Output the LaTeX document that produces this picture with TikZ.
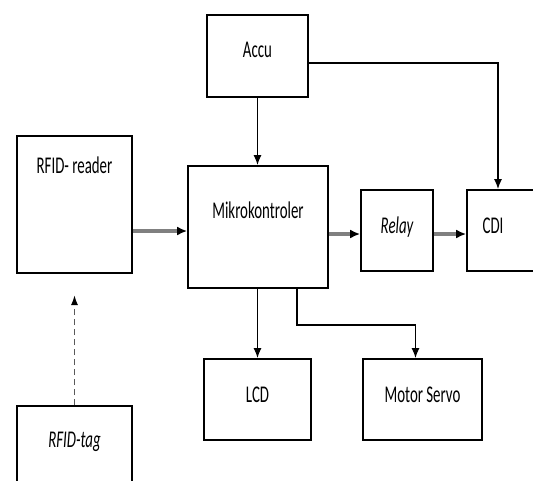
\documentclass[tikz,border=0pt]{standalone}
\usepackage{fontspec}
\setmainfont{Carlito}[FakeStretch=0.62]
\usetikzlibrary{arrows.meta,positioning}

\begin{document}
\begin{tikzpicture}[x=1pt, y=-1pt,
    box/.style={rectangle, draw, line width=1.7pt, inner sep=0pt},
    txt/.style={anchor=base, font=\fontsize{24}{28}\selectfont},
    arrow/.style={-{Latex[length=10pt,width=8pt]}, line width=1.5pt},
    bus/.style={draw=gray, line width=3.5pt, -{Latex[length=10pt,width=9pt,black]}},
    link/.style={draw=gray!70!black, line width=1.6pt, dash pattern=on 6pt off 4pt, -{Latex[length=10pt,width=7pt,black]}}
]
    \useasboundingbox (0,0) rectangle (533,480);
    \clip (0,0) rectangle (533,480);

    % blocks
    \node[box, minimum width=101pt, minimum height=82pt] (accu) at (257.5,56) {};
    \node[box, minimum width=115pt, minimum height=137pt] (reader) at (74.5,204.5) {};
    \node[box, minimum width=140pt, minimum height=122pt] (mikro) at (258,227) {};
    \node[box, minimum width=72pt, minimum height=81pt] (relay) at (397,230.5) {};
    \node[box, minimum width=78pt, minimum height=81pt] (cdi) at (506,230.5) {};
    \node[box, minimum width=107pt, minimum height=81pt] (lcd) at (257.5,399.5) {};
    \node[box, minimum width=119pt, minimum height=81pt] (servo) at (422.5,399.5) {};
    \node[box, minimum width=115pt, minimum height=100pt] (tag) at (74.5,456) {};

    % texts
    \node[txt] (accutxt) at (257.5,57) {Accu};
    \node[txt] (readertxt) at (74.5,173) {RFID- reader};
    \node[txt] (mikrotxt) at (258,218) {Mikrokontroler};
    \node[txt] (relaytxt) at (397,233) {\itshape Relay};
    \node[txt] (cditxt) at (493,233) {CDI};
    \node[txt] (lcdtxt) at (257.5,402) {LCD};
    \node[txt] (servotxt) at (422.5,402) {Motor Servo};
    \node[txt] (tagtxt) at (74.5,447) {\itshape RFID-tag};

    % connectors
    \coordinate (bend) at (297,325);
    \coordinate (tagend) at (74.5,295);
    \draw[arrow] (accu.south) -- (accu.south |- mikro.north);
    \draw[arrow] ([yshift=-7pt]accu.east) -| ([xshift=-8pt]cdi.north);
    \draw[arrow] (mikro.south -| lcd.north) -- (lcd.north);
    \draw[arrow] (mikro.south -| bend) -- (bend) -| ([xshift=-7pt]servo.north);
    \draw[bus] (reader.east |- 0,231) -- (mikro.west |- 0,231);
    \draw[bus] (mikro.east |- 0,234) -- (relay.west |- 0,234);
    \draw[bus] (relay.east |- 0,234) -- (cdi.west |- 0,234);
    \draw[link] (tag.north) -- (tagend);
\end{tikzpicture}
\end{document}
